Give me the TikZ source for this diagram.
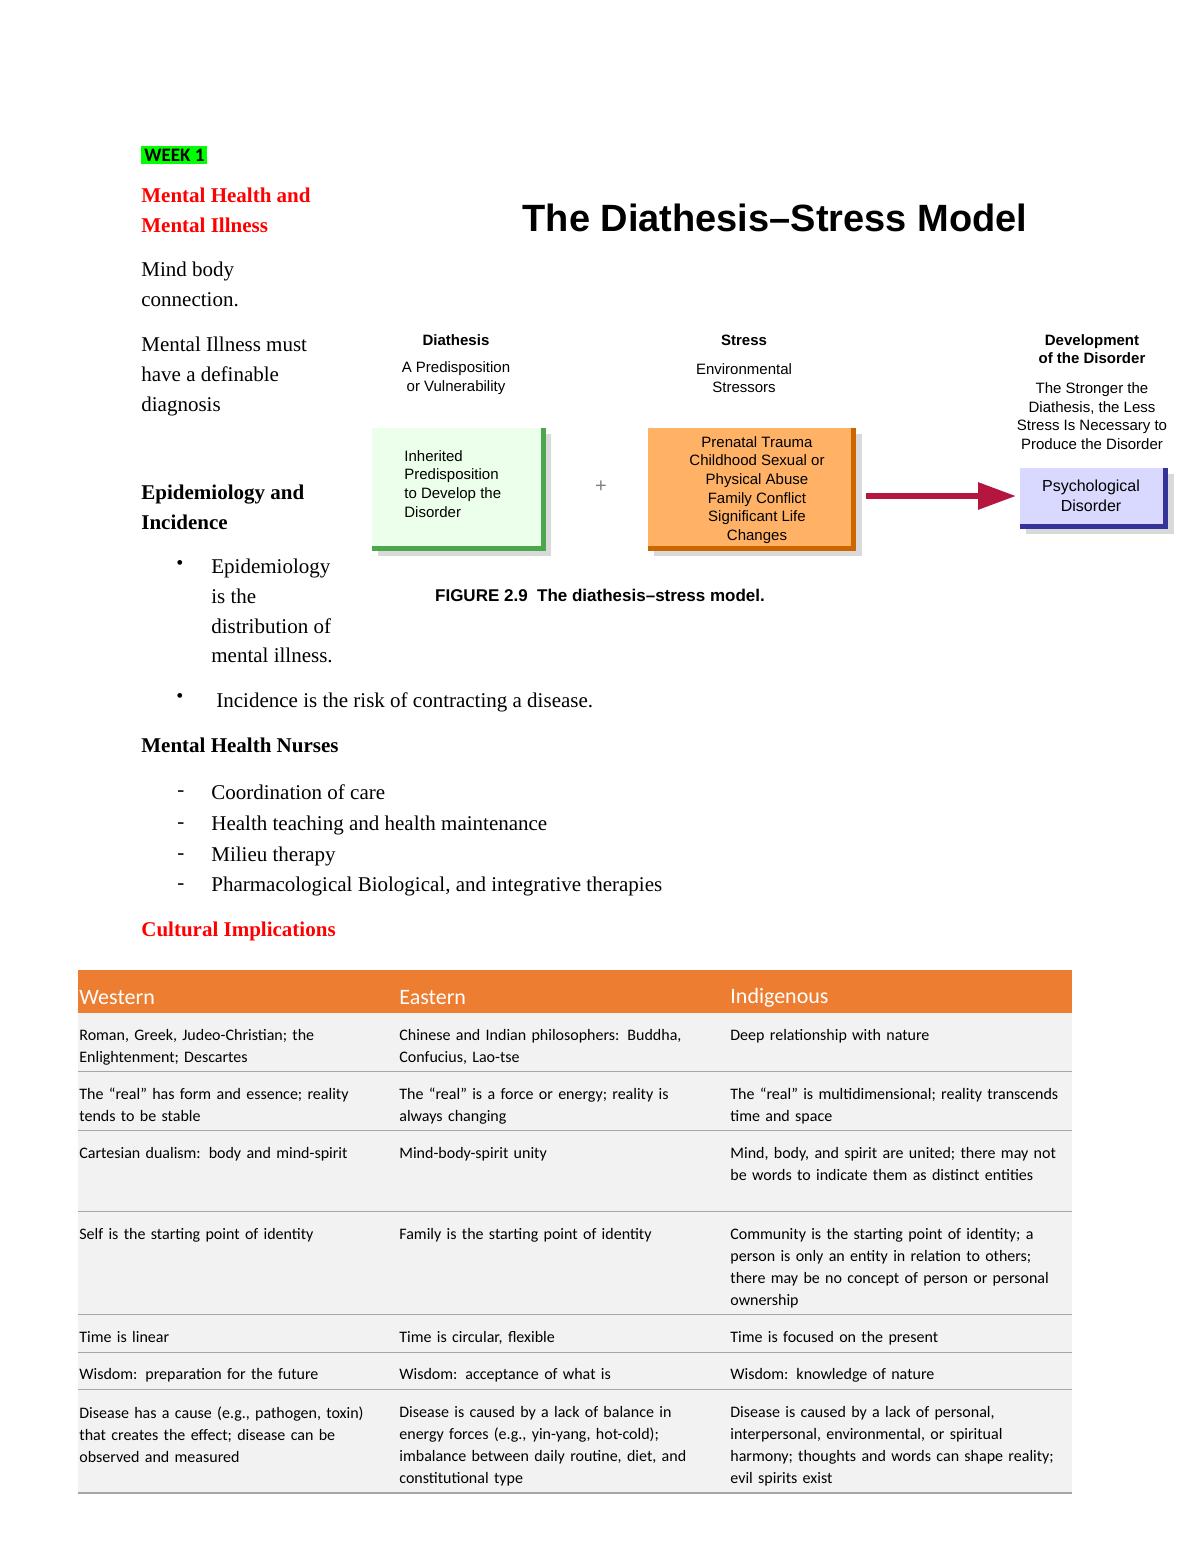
\documentclass[tikz,border=0pt]{standalone}
\usepackage{fontspec}
\setmainfont{Liberation Serif}
\newfontfamily\tabf{Carlito}
\newfontfamily\diagf{Liberation Sans}
\usetikzlibrary{arrows.meta}
\definecolor{wred}{HTML}{FF0000}
\definecolor{orng}{HTML}{ED7D31}
\definecolor{rowg}{HTML}{F2F2F2}
\definecolor{arr}{HTML}{B5163F}
\hyphenpenalty=10000
\exhyphenpenalty=10000
\begin{document}
\begin{tikzpicture}[x=0.5pt,y=-0.5pt,
 body/.style={anchor=north west,inner sep=0,font=\fontsize{10.5}{14.8}\selectfont,align=left},
 cell/.style={anchor=north west,inner sep=0,font=\tabf\fontsize{8}{11}\selectfont,align=left,text width=155pt},
 hdr/.style={anchor=west,inner sep=0,font=\tabf\fontsize{11}{13}\selectfont,text=white},
 dg/.style={font=\diagf\fontsize{7.5}{9.3}\selectfont,align=center,inner sep=0},
 dgl/.style={font=\diagf\fontsize{7.5}{9.3}\selectfont,align=left,inner sep=0,anchor=north west}]
\useasboundingbox (0,0) rectangle (1200,1553);
% left column
\node[anchor=west,fill=green,inner sep=1.5pt,font=\tabf\bfseries\fontsize{9.5}{11}\selectfont] (wk) at (141,155) {WEEK 1};
\node[body,text=wred,font=\bfseries\fontsize{10.5}{14.8}\selectfont] (t1) at (141,188) {Mental Health and\\Mental Illness};
\node[body] (t2) at (141,262) {Mind body\\connection.};
\node[body] (t3) at (141,337) {Mental Illness must\\have a definable\\diagnosis};
\node[body,font=\bfseries\fontsize{10.5}{14.8}\selectfont] (t4) at (141,485) {Epidemiology and\\Incidence};
\node[anchor=north west,inner sep=0] (b1) at (176,560) {\textbullet};
\node[body] (t5) at (211,559) {Epidemiology\\is the\\distribution of\\mental illness.};
\node[anchor=north west,inner sep=0] (b2) at (176,693) {\textbullet};
\node[body] (t6) at (216,692) {Incidence is the risk of contracting a disease.};
\node[body,font=\bfseries\fontsize{10.5}{14.8}\selectfont] (t7) at (141,738) {Mental Health Nurses};
\foreach \y/\t in {784/Coordination of care,816/Health teaching and health maintenance,847/Milieu therapy,877/{Pharmacological Biological, and integrative therapies}}{
 \node[body,anchor=west] at (177,\y+10) {-};
 \node[body] at (211,\y) {\t};}
\node[body,text=wred,font=\bfseries\fontsize{10.5}{14.8}\selectfont] (t8) at (141,922) {Cultural Implications};
% diagram
\node[font=\diagf\bfseries\fontsize{19}{22}\selectfont,inner sep=0] (title) at (775,218) {The Diathesis\textendash Stress Model};
\node[dg] (h1) at (456,340) {\bfseries Diathesis};
\node[dg] (s1) at (456,378) {A Predisposition\\or Vulnerability};
\node[dg] (h2) at (744,340) {\bfseries Stress};
\node[dg] (s2) at (744,378) {Environmental\\Stressors};
\node[dg] (h3) at (1092,349) {\bfseries Development\\\bfseries of the Disorder};
\node[dg] (s3) at (1092,416) {The Stronger the\\Diathesis, the Less\\Stress Is Necessary to\\Produce the Disorder};
\fill[gray!30] (378,434) rectangle (551,556);
\fill[green!50!black!70] (541,428) rectangle (546,551);
\fill[green!50!black!70] (372,546) rectangle (546,551);
\fill[green!8] (372,428) rectangle (541,546);
\node[dgl] (g) at (404,450) {Inherited\\Predisposition\\to Develop the\\Disorder};
\node[font=\diagf\fontsize{10}{12}\selectfont,text=gray] (plus) at (601,487) {+};
\fill[gray!30] (654,434) rectangle (862,556);
\fill[orange!80!black] (851,428) rectangle (856,551);
\fill[orange!80!black] (648,546) rectangle (856,551);
\fill[orange!60] (648,428) rectangle (851,546);
\node[dg] (o) at (757,490) {Prenatal Trauma\\Childhood Sexual or\\Physical Abuse\\Family Conflict\\Significant Life\\Changes};
\fill[gray!30] (1026,474) rectangle (1174,534);
\fill[blue!50!black!80] (1163,468) rectangle (1168,529);
\fill[blue!50!black!80] (1020,524) rectangle (1168,529);
\fill[blue!15] (1020,468) rectangle (1163,524);
\node[dg,font=\diagf\fontsize{8}{9.8}\selectfont] (pd) at (1091,496) {Psychological\\Disorder};
\coordinate (as) at (866,496);
\coordinate (ae) at (1016,496);
\draw[arr,line width=3pt,-{Triangle[length=19pt,width=13pt]}] (as) -- (ae);
\node[font=\diagf\bfseries\fontsize{8.5}{10}\selectfont,inner sep=0] (cap) at (600,595) {FIGURE 2.9\ \ The diathesis\textendash stress model.};
% table
\fill[orng] (78,970) rectangle (1072,1013);
\foreach \a/\b in {1013/1072,1072/1131,1131/1212,1212/1315,1315/1353,1353/1390,1390/1493}{
 \fill[rowg] (78,\a) rectangle (1072,\b);
 \draw[gray!70,line width=0.8pt] (78,\b) -- (1072,\b);}
\node[hdr] (c1) at (79,998) {Western};
\node[hdr] (c2) at (399,998) {Eastern};
\node[hdr] (c3) at (730,998) {Indigenous};
\foreach \y/\a/\b/\c in {
1029/{Roman, Greek, Judeo-Christian; the Enlightenment; Descartes}/{Chinese and Indian philosophers: Buddha, Confucius, Lao-tse}/{Deep relationship with nature},
1088/{The “real” has form and essence; reality tends to be stable}/{The “real” is a force or energy; reality is always changing}/{The “real” is multidimensional; reality transcends time and space},
1147/{Cartesian dualism: body and mind-spirit}/{Mind-body-spirit unity}/{Mind, body, and spirit are united; there may not be words to indicate them as distinct entities},
1228/{Self is the starting point of identity}/{Family is the starting point of identity}/{Community is the starting point of identity; a person is only an entity in relation to others; there may be no concept of person or personal ownership},
1331/{Time is linear}/{Time is circular, flexible}/{Time is focused on the present},
1368/{Wisdom: preparation for the future}/{Wisdom: acceptance of what is}/{Wisdom: knowledge of nature},
1406/{Disease has a cause (e.g., pathogen, toxin) that creates the effect; disease can be observed and measured}/{Disease is caused by a lack of balance in energy forces (e.g., yin-yang, hot-cold); imbalance between daily routine, diet, and constitutional type}/{Disease is caused by a lack of personal, interpersonal, environmental, or spiritual harmony; thoughts and words can shape reality; evil spirits exist}}{
 \node[cell] at (79,\y) {\a};
 \node[cell,text width=157pt] at (399,\y) {\b};
 \node[cell,text width=166pt] at (730,\y) {\c};}
\end{tikzpicture}
\end{document}
